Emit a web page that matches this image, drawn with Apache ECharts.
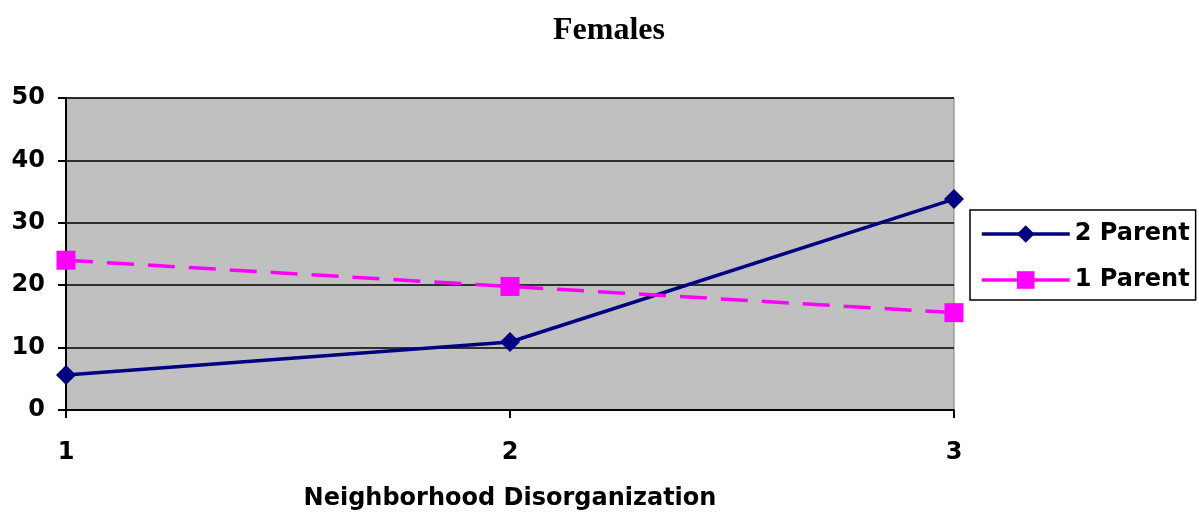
<!DOCTYPE html>
<html>
<head>
<meta charset="utf-8">
<script src="https://cdn.jsdelivr.net/npm/echarts@6/dist/echarts.min.js"></script>
<style>
  html, body { margin: 0; padding: 0; background: #fff; }
  #chart { width: 1199px; height: 518px; }
</style>
</head>
<body>
<div id="chart"></div>
<script>
const categories = ['1', '2', '3']
const twoParent = [5.6, 10.9, 33.8]
const oneParent = [24.0, 19.8, 15.6]

// bold sans labels, a bit wider than Arial like the original
const labelFont = {
  fontFamily: 'DejaVu Sans',
  fontWeight: 'bold',
  fontSize: 24,
  color: '#000'
}

const chart = echarts.init(document.getElementById('chart'))
chart.setOption({
  animation: false,
  title: {
    text: 'Females',
    left: 604,
    textAlign: 'center',
    top: 10,
    textStyle: {
      fontFamily: 'Liberation Serif',
      fontWeight: 'bold',
      fontSize: 32,
      color: '#000'
    }
  },
  grid: {
    left: 66,
    right: 245,
    top: 98,
    bottom: 108,
    show: true,
    backgroundColor: '#c0c0c0',
    borderColor: '#808080',
    borderWidth: 1
  },
  legend: {
    orient: 'vertical',
    left: 970,
    top: 210,
    width: 225,
    padding: [12, 6, 8, 10],
    itemGap: 22,
    itemWidth: 88,
    itemHeight: 22,
    borderColor: '#000',
    borderWidth: 1.5,
    textStyle: labelFont,
    data: [
      { name: '2 Parent', lineStyle: { width: 3.5 } },
      { name: '1 Parent', lineStyle: { width: 3.5, type: 'solid' } }
    ]
  },
  xAxis: {
    type: 'category',
    data: categories,
    boundaryGap: false,
    name: 'Neighborhood Disorganization',
    nameLocation: 'middle',
    nameGap: 77,
    nameTextStyle: labelFont,
    axisLine: { lineStyle: { color: '#000', width: 2 } },
    axisTick: { show: true, length: 8, lineStyle: { color: '#000', width: 2 } },
    axisLabel: Object.assign({ margin: 31 }, labelFont)
  },
  yAxis: {
    type: 'value',
    min: 0,
    max: 50,
    interval: 10,
    axisLine: { show: true, lineStyle: { color: '#000', width: 2 } },
    axisTick: { show: true, length: 8, lineStyle: { color: '#000', width: 2 } },
    axisLabel: Object.assign({ margin: 21 }, labelFont),
    splitLine: { lineStyle: { color: '#000', width: 1.5 } }
  },
  series: [
    {
      name: '2 Parent',
      type: 'line',
      data: twoParent,
      symbol: 'diamond',
      symbolSize: 20,
      itemStyle: { color: '#000080' },
      lineStyle: { color: '#000080', width: 3.5 }
    },
    {
      name: '1 Parent',
      type: 'line',
      data: oneParent,
      symbol: 'rect',
      symbolSize: 19,
      itemStyle: { color: '#ff00ff' },
      lineStyle: { color: '#ff00ff', width: 3.5, type: [27, 14] }
    }
  ]
})
</script>
</body>
</html>
